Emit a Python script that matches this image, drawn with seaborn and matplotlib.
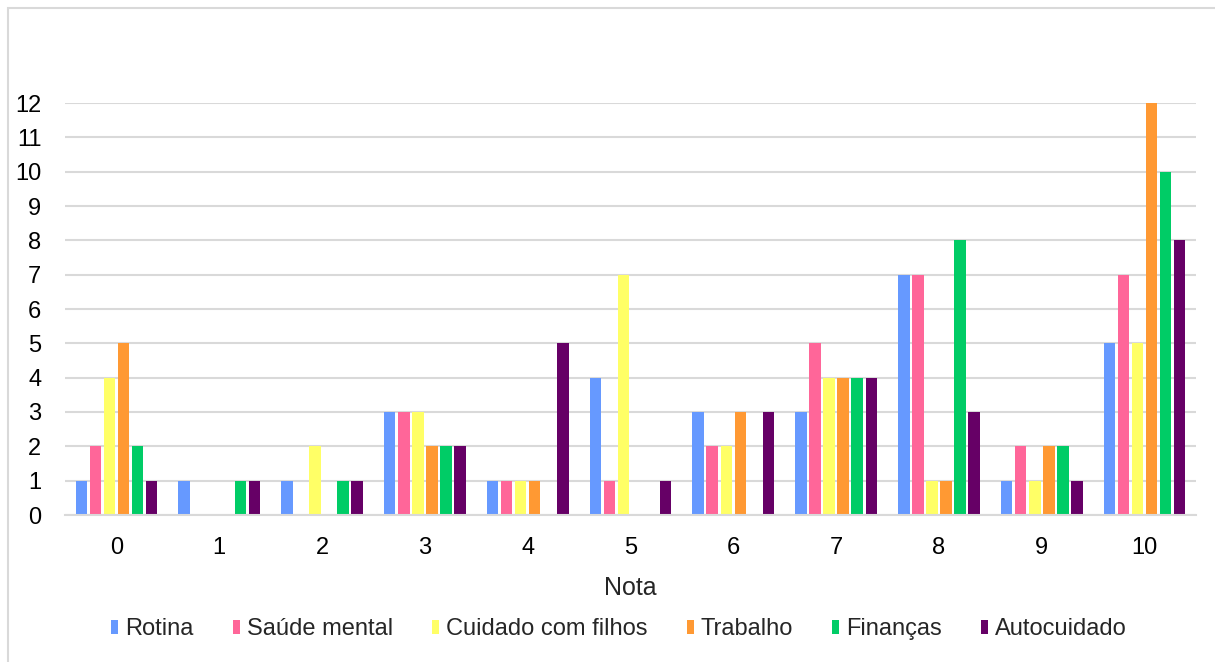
import matplotlib
matplotlib.use("Agg")
import matplotlib.pyplot as plt
from matplotlib.patches import Rectangle
import seaborn as sns
import pandas as pd

notas = ["0", "1", "2", "3", "4", "5", "6", "7", "8", "9", "10"]
rotina = [1, 1, 1, 3, 1, 4, 3, 3, 7, 1, 5]
saude_mental = [2, 0, 0, 3, 1, 1, 2, 5, 7, 2, 7]
cuidado_filhos = [4, 0, 2, 3, 1, 7, 2, 4, 1, 1, 5]
trabalho = [5, 0, 0, 2, 1, 0, 3, 4, 1, 2, 12]
financas = [2, 1, 1, 2, 0, 0, 0, 4, 8, 2, 10]
autocuidado = [1, 1, 1, 2, 5, 1, 3, 4, 3, 1, 8]

series_names = ["Rotina", "Saúde mental", "Cuidado com filhos",
                "Trabalho", "Finanças", "Autocuidado"]
series_values = [rotina, saude_mental, cuidado_filhos,
                 trabalho, financas, autocuidado]
colors = ["#6699FF", "#FF6699", "#FFFF66", "#FF9933", "#00CC66", "#660066"]

df = pd.DataFrame(
    [(n, s, v) for s, vals in zip(series_names, series_values)
     for n, v in zip(notas, vals)],
    columns=["Nota", "Área", "Valor"],
)

sns.set_theme(style="white")
plt.rcParams["font.family"] = ["Liberation Sans", "DejaVu Sans"]

fig = plt.figure(figsize=(12.15, 6.62), dpi=100)
ax = fig.add_axes([65 / 1215, 1 - 515 / 662, 1131 / 1215, 412 / 662])

sns.barplot(
    data=df, x="Nota", y="Valor", hue="Área", order=notas,
    hue_order=series_names, palette=colors, width=0.82, gap=0.18,
    saturation=1, linewidth=0, legend=True, ax=ax,
)

ax.set_ylim(0, 12)
ax.set_xlim(-0.5, 10.5)
ax.set_yticks(range(0, 13))
ax.yaxis.grid(True, color="#d9d9d9", linewidth=1.5)
ax.set_axisbelow(True)
for side in ["left", "right", "top"]:
    ax.spines[side].set_visible(False)
ax.spines["bottom"].set_color("#d9d9d9")
ax.spines["bottom"].set_linewidth(1.5)
ax.tick_params(axis="both", length=0, labelsize=17, colors="black")
ax.tick_params(axis="y", pad=17)
ax.tick_params(axis="x", pad=16)
ax.set_ylabel("")
ax.set_xlabel("Nota", fontsize=18, labelpad=12)

ax.legend(
    loc="center", bbox_to_anchor=(619 / 1215, 1 - 629 / 662), bbox_transform=fig.transFigure,
    ncol=6, frameon=False, fontsize=17, handlelength=0.3, handleheight=0.55,
    handletextpad=0.3, columnspacing=1.65,
)

fig.patches.append(Rectangle(
    (8 / 1215, -0.01), 1.02, 1 - 8 / 662 + 0.01, transform=fig.transFigure,
    fill=False, edgecolor="#d9d9d9", linewidth=1.5,
))

fig.savefig("out.png", dpi=100, facecolor="white")
